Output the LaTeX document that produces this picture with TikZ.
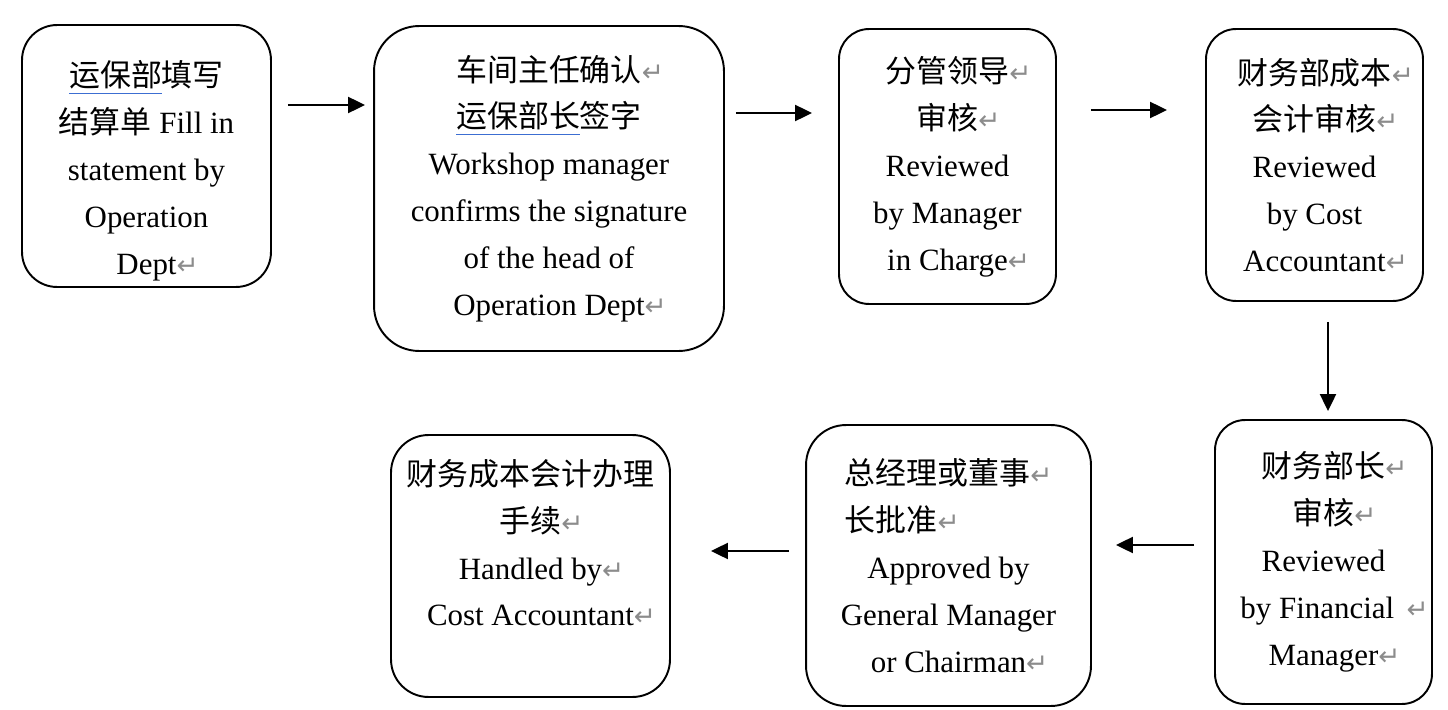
\documentclass[tikz,border=0pt]{standalone}
\usepackage{fontspec}
\setmainfont{Liberation Serif}
\newfontfamily\cjk{Noto Sans CJK SC}
\newfontfamily\symf{DejaVu Sans}
\usetikzlibrary{arrows.meta, positioning}
\definecolor{spellblue}{RGB}{60,110,210}
% paragraph mark and blue underline, as printed
\newcommand{\ret}{\rlap{\symf\color{black!45}\fontsize{15}{15}\selectfont ↵}}
\newcommand{\bul}[1]{\begingroup\setbox0\hbox{#1}\rlap{\color{spellblue}\rule[-4pt]{\wd0}{0.7pt}}\box0\endgroup}
\tikzset{
    stage/.style={draw, line width=1.1pt, align=center, inner sep=0pt,
        font=\fontsize{17.6}{26.7}\selectfont},
    flow/.style={-{Triangle[length=0.34cm, width=0.32cm]}, line width=1.2pt}
}

\begin{document}
\begin{tikzpicture}[x=0.02cm, y=-0.02cm]
    \useasboundingbox (0,0) rectangle (1448,710);
    % Top row
    \node[stage, rounded corners=0.7cm, minimum width=4.98cm, minimum height=5.24cm] (A) at (146.5,156)
        {\rule{0pt}{0.3cm}\\[-0.12cm]\bul{{\cjk 运保部}}{\cjk 填写}\\{\cjk 结算单} Fill in\\statement by\\Operation\\Dept\ret};
    \node[stage, rounded corners=0.9cm, minimum width=7cm, minimum height=6.5cm] (B) at (549,188.5)
        {{\cjk 车间主任确认}\ret\\\bul{{\cjk 运保部长}}{\cjk 签字}\\Workshop manager\\confirms the signature\\of the head of\\Operation Dept\ret};
    \node[stage, rounded corners=0.6cm, minimum width=4.34cm, minimum height=5.5cm] (C) at (947.5,166.5)
        {{\cjk 分管领导}\ret\\{\cjk 审核}\ret\\Reviewed\\by Manager\\in Charge\ret};
    \node[stage, rounded corners=0.6cm, minimum width=4.34cm, minimum height=5.44cm] (D) at (1314.5,165)
        {{\cjk 财务部成本}\ret\\{\cjk 会计审核}\ret\\Reviewed\\by Cost\\Accountant\ret};
    % Bottom row
    \node[stage, rounded corners=0.6cm, minimum width=4.34cm, minimum height=5.68cm] (E) at (1323.5,562)
        {{\cjk 财务部长}\ret\\{\cjk 审核}\ret\\Reviewed\\by Financial\hspace{0.4em}\ret\\Manager\ret};
    \node[stage, rounded corners=0.8cm, minimum width=5.7cm, minimum height=5.62cm] (F) at (948.5,565.5)
        {\makebox[6.7em][l]{{\cjk 总经理或董事}\ret}\\\makebox[6.7em][l]{{\cjk 长批准}\ret}\\Approved by\\General Manager\\or Chairman\ret};
    \node[stage, rounded corners=0.75cm, minimum width=5.58cm, minimum height=5.24cm] (G) at (530.5,566)
        {{\cjk 财务成本会计办理}\\{\cjk 手续}\ret\\Handled by\ret\\Cost Accountant\ret\\\mbox{}};
    % Arrows
    \draw[flow] ([xshift=0.32cm]A.east |- 0,105) -- ([xshift=-0.16cm]B.west |- 0,105);
    \draw[flow] ([xshift=0.22cm]B.east |- 0,113) -- ([xshift=-0.52cm]C.west |- 0,113);
    \draw[flow] ([xshift=0.68cm]C.east |- 0,110) -- ([xshift=-0.76cm]D.west |- 0,110);
    \draw[flow] ([yshift=-0.4cm]D.south -| 1328,0) -- ([yshift=0.16cm]E.north -| 1328,0);
    \draw[flow] ([xshift=-0.4cm]E.west |- 0,545) -- ([xshift=0.48cm]F.east |- 0,545);
    \draw[flow] ([xshift=-0.32cm]F.west |- 0,551) -- ([xshift=0.8cm]G.east |- 0,551);
\end{tikzpicture}
\end{document}
